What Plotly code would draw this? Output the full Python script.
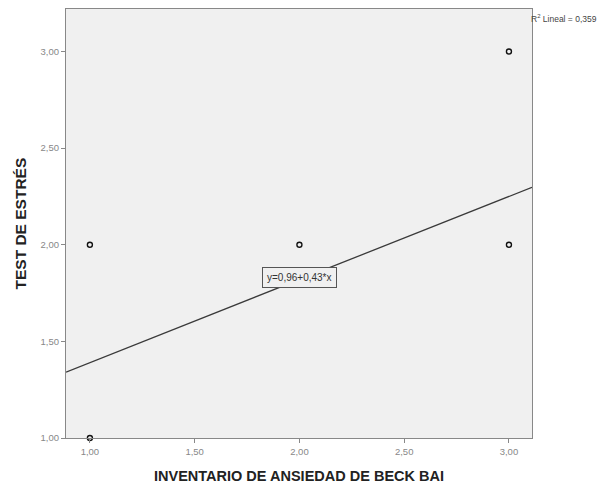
import plotly.graph_objects as go

# Data
x_vals = [1.0, 1.0, 2.0, 3.0, 3.0]
y_vals = [2.0, 1.0, 2.0, 3.0, 2.0]
intercept = 0.96
slope = 0.43
r2_text = "0,359"
equation_text = "y=0,96+0,43*x"
x_ticks = [1.0, 1.5, 2.0, 2.5, 3.0]
x_ticklabels = ["1,00", "1,50", "2,00", "2,50", "3,00"]
y_ticks = [1.0, 1.5, 2.0, 2.5, 3.0]
y_ticklabels = ["1,00", "1,50", "2,00", "2,50", "3,00"]

x_range = [0.886, 3.11]
y_range = [1.0, 3.22]

fig = go.Figure()
line_x = x_range
line_y = [intercept + slope * v for v in line_x]
fig.add_trace(go.Scatter(x=line_x, y=line_y, mode="lines",
                         line=dict(color="#3a3a3a", width=1.3),
                         hoverinfo="skip", showlegend=False))
fig.add_trace(go.Scatter(x=x_vals, y=y_vals, mode="markers",
                         marker=dict(symbol="circle-open", size=5,
                                     color="#111111", line=dict(width=1.4, color="#111111")),
                         cliponaxis=False, showlegend=False))

fig.add_annotation(x=2.0, y=1.83, xref="x", yref="y",
                   text=equation_text, showarrow=False,
                   font=dict(family="Liberation Sans", size=10, color="#333333"),
                   bgcolor="#F0F0F0", bordercolor="#555555", borderwidth=1, borderpad=4)
fig.add_annotation(x=1.0, y=1.0, xref="paper", yref="paper",
                   xanchor="left", yanchor="top", xshift=-3, yshift=-2,
                   text="R<sup>2</sup> Lineal = " + r2_text, showarrow=False,
                   font=dict(family="Liberation Sans", size=8.5, color="#444444"))

axis_common = dict(showgrid=False, zeroline=False, showline=True, linecolor="#888888",
                   linewidth=1.2, mirror=True, ticks="outside", ticklen=4, tickcolor="#888888",
                   automargin=False,
                   tickfont=dict(family="Liberation Sans", size=9.5, color="#888888"))
fig.update_xaxes(range=x_range, tickvals=x_ticks, ticktext=x_ticklabels, **axis_common)
fig.update_yaxes(range=y_range, tickvals=y_ticks, ticktext=y_ticklabels, **axis_common)

# axis titles
fig.add_annotation(x=0.5, y=0, xref="paper", yref="paper", yanchor="middle",
                   yshift=-38, showarrow=False,
                   text="<b>INVENTARIO DE ANSIEDAD DE BECK BAI</b>",
                   font=dict(family="Liberation Sans", size=14.5, color="#222222"))
fig.add_annotation(x=0, y=0.5, xref="paper", yref="paper", xanchor="center",
                   xshift=-46, showarrow=False, textangle=-90,
                   text="<b>TEST DE ESTRÉS</b>",
                   font=dict(family="Liberation Sans", size=15.5, color="#222222"))

fig.update_layout(width=605, height=475, margin=dict(l=58, r=81, t=1, b=45),
                  plot_bgcolor="#F0F0F0", paper_bgcolor="white",
                  showlegend=False)
fig.write_html("out.html")
